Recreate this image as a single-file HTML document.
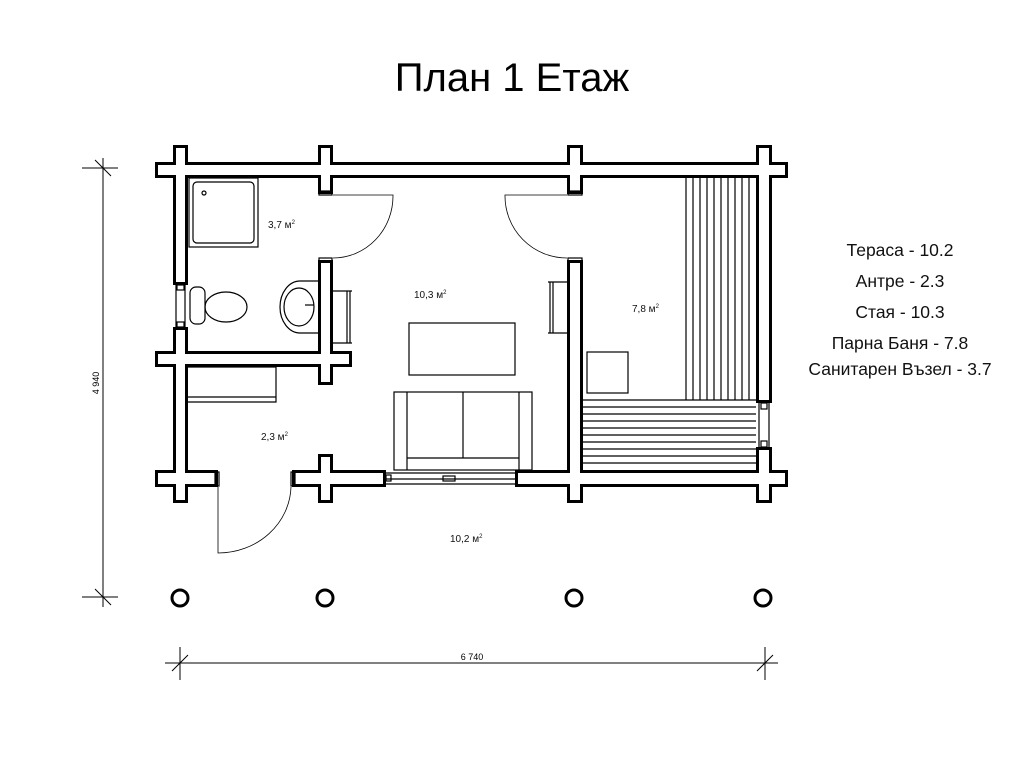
<!DOCTYPE html>
<html><head><meta charset="utf-8"><style>
body{margin:0;background:#fff;width:1024px;height:768px;overflow:hidden}
svg{display:block;font-family:"Liberation Sans",Arial,sans-serif}
</style></head><body>
<svg width="1024" height="768" viewBox="0 0 1024 768" xmlns="http://www.w3.org/2000/svg">
<text x="512" y="91" font-size="40" text-anchor="middle" fill="#000">План 1 Етаж</text>
<g font-size="17.5" text-anchor="middle" fill="#111">
<text x="900" y="256">Тераса - 10.2</text>
<text x="900" y="287">Антре - 2.3</text>
<text x="900" y="318">Стая - 10.3</text>
<text x="900" y="349">Парна Баня - 7.8</text>
<text x="900" y="375">Санитарен Възел - 3.7</text>
</g>
<g fill="#000">
<rect x="155" y="162" width="633" height="16"/>
<rect x="173" y="145" width="15" height="140"/>
<rect x="173" y="327" width="15" height="176"/>
<rect x="318" y="145" width="15" height="49"/>
<rect x="567" y="145" width="16" height="49"/>
<rect x="756" y="145" width="16" height="258"/>
<rect x="756" y="447" width="16" height="56"/>
<rect x="155" y="351" width="197" height="16"/>
<rect x="318" y="260" width="15" height="125"/>
<rect x="567" y="260" width="16" height="243"/>
<rect x="155" y="470" width="63" height="17"/>
<rect x="292" y="470" width="94" height="17"/>
<rect x="318" y="454" width="15" height="49"/>
<rect x="515" y="470" width="273" height="17"/>
</g>
<g fill="#fff">
<rect x="158" y="165" width="627" height="10"/>
<rect x="176" y="148" width="9" height="134"/>
<rect x="176" y="330" width="9" height="170"/>
<rect x="321" y="148" width="9" height="43"/>
<rect x="570" y="148" width="10" height="43"/>
<rect x="759" y="148" width="10" height="252"/>
<rect x="759" y="450" width="10" height="50"/>
<rect x="158" y="354" width="191" height="10"/>
<rect x="321" y="263" width="9" height="119"/>
<rect x="570" y="263" width="10" height="237"/>
<rect x="158" y="473" width="57" height="11"/>
<rect x="295" y="473" width="88" height="11"/>
<rect x="321" y="457" width="9" height="43"/>
<rect x="518" y="473" width="267" height="11"/>
</g>
<g fill="none" stroke="#000" stroke-width="1.2">
<rect x="319" y="191" width="13" height="4"/><rect x="319" y="258" width="13" height="4"/>
<rect x="568" y="191" width="14" height="4"/><rect x="568" y="258" width="14" height="4"/>
<rect x="215" y="472" width="4" height="14"/><rect x="291" y="472" width="4" height="14"/>
<path d="M333 195 H393 A60 62 0 0 1 333 258" stroke-width="0.8"/>
<path d="M567 195 H505 A62 62 0 0 0 567 258" stroke-width="0.8"/>
<path d="M218 487 V553 A73 68 0 0 0 291 487" stroke-width="0.8"/>
<line x1="176" y1="285" x2="176" y2="327"/><line x1="185" y1="285" x2="185" y2="327"/>
<rect x="177" y="285" width="7" height="5"/><rect x="177" y="322" width="7" height="5"/>
<line x1="759" y1="403" x2="759" y2="447"/><line x1="769" y1="403" x2="769" y2="447"/>
<rect x="761" y="403" width="6" height="6"/><rect x="761" y="441" width="6" height="6"/>
<line x1="386" y1="473" x2="515" y2="473"/><line x1="386" y1="479" x2="515" y2="479"/><line x1="386" y1="484" x2="515" y2="484"/>
<rect x="443" y="476" width="12" height="5"/><rect x="386" y="475" width="5" height="6"/>
<rect x="189" y="178" width="69" height="69"/>
<rect x="193" y="182" width="61" height="61" rx="4"/>
<circle cx="204" cy="193" r="2"/>
<rect x="190" y="287" width="15" height="37" rx="6"/>
<ellipse cx="226" cy="307" rx="21" ry="15"/>
<path d="M318 281 H300 A20 26 0 0 0 300 333 H318"/>
<ellipse cx="299" cy="307" rx="15" ry="19"/>
<line x1="305" y1="305" x2="314" y2="305"/>
<path d="M333 291 H352 M350 291 V343 M333 343 H352 M347 291 V343"/>
<path d="M567 282 H548 M550 282 V333 M567 333 H548 M553 282 V333"/>
<rect x="409" y="323" width="106" height="52"/>
<rect x="394" y="392" width="138" height="78"/>
<path d="M407 392 V470 M519 392 V470 M463 392 V458 M407 458 H519"/>
<path d="M188 367 H276 V402 H188 M188 397 H276"/>
<rect x="587" y="352" width="41" height="41"/>
<path d="M686 178 V400 M693 178 V400 M700 178 V400 M707 178 V400 M714 178 V400 M721 178 V400 M728 178 V400 M735 178 V400 M742 178 V400 M749 178 V400"/>
<path d="M583 400 H756 M583 407 H756 M583 414 H756 M583 421 H756 M583 428 H756 M583 435 H756 M583 442 H756 M583 449 H756 M583 456 H756 M583 463 H756"/>
</g>
<g fill="#fff" stroke="#000" stroke-width="3">
<circle cx="180" cy="598" r="8"/><circle cx="325" cy="598" r="8"/><circle cx="574" cy="598" r="8"/><circle cx="763" cy="598" r="8"/>
</g>
<g stroke="#000" stroke-width="1" fill="none">
<line x1="103" y1="158" x2="103" y2="607"/>
<line x1="82" y1="168" x2="118" y2="168"/><line x1="82" y1="597" x2="118" y2="597"/>
<line x1="95" y1="160" x2="111" y2="176"/><line x1="95" y1="589" x2="111" y2="605"/>
<line x1="165" y1="663" x2="778" y2="663"/>
<line x1="180" y1="647" x2="180" y2="680"/><line x1="765" y1="647" x2="765" y2="680"/>
<line x1="172" y1="671" x2="188" y2="655"/><line x1="757" y1="671" x2="773" y2="655"/>
</g>
<text x="472" y="660" font-size="9" text-anchor="middle">6 740</text>
<text x="0" y="0" font-size="9" text-anchor="middle" transform="translate(99,383) rotate(-90)">4 940</text>
<g font-size="10" fill="#111">
<text x="268" y="228">3,7 м<tspan font-size="6" dy="-4">2</tspan></text>
<text x="414" y="298">10,3 м<tspan font-size="6" dy="-4">2</tspan></text>
<text x="632" y="312">7,8 м<tspan font-size="6" dy="-4">2</tspan></text>
<text x="261" y="440">2,3 м<tspan font-size="6" dy="-4">2</tspan></text>
<text x="450" y="542">10,2 м<tspan font-size="6" dy="-4">2</tspan></text>
</g>
</svg>
</body></html>
